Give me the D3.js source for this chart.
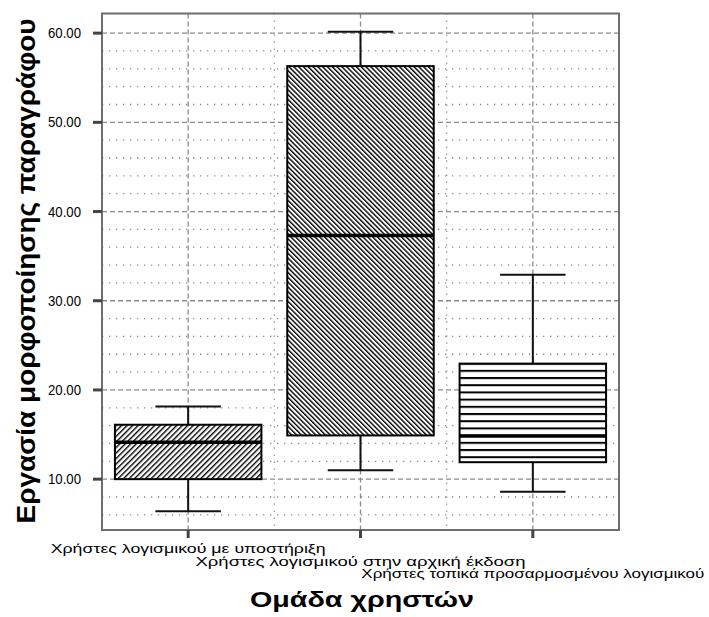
<!DOCTYPE html>
<meta charset="utf-8">
<script src="https://d3js.org/d3.v7.min.js"></script>
<style>
body { margin: 0; background: #fff; }
</style>
<div id="my_dataviz"></div>
<script>

// box plot summary values
var groups = ["Χρήστες λογισμικού με υποστήριξη",
              "Χρήστες λογισμικού στην αρχική έκδοση",
              "Χρήστες τοπικά προσαρμοσμένου λογισμικού"];
var mins    = [6.4, 11.0, 8.6];
var q1s     = [10.0, 14.9, 11.9];
var medians = [14.15, 37.3, 14.85];
var q3s     = [16.1, 56.3, 22.95];
var maxs    = [18.15, 60.15, 32.9];
var yTicks  = [10, 20, 30, 40, 50, 60];
var yMinor  = [6, 8, 12, 14, 16, 18, 22, 24, 26, 28, 32, 34, 36, 38, 42, 44, 46, 48, 52, 54, 56, 58];

var W = 709, H = 617;
var pLeft = 102, pRight = 619, pTop = 13.5, pBottom = 530;

var svg = d3.select("#my_dataviz")
  .append("svg")
    .attr("width", W)
    .attr("height", H);

var x = d3.scaleBand()
  .domain(groups)
  .range([pLeft, pRight])
  .padding(0);

var y = d3.scaleLinear()
  .domain([4.3, 62.2])
  .range([pBottom, pTop]);

// hatch patterns
var defs = svg.append("defs");
function hatch(id, w, angle) {
  var p = defs.append("pattern")
    .attr("id", id)
    .attr("patternUnits", "userSpaceOnUse")
    .attr("width", w).attr("height", 10)
    .attr("patternTransform", "rotate(" + angle + ")");
  p.append("rect").attr("width", w).attr("height", 10).attr("fill", "#fff");
  p.append("line").attr("x1", 0.7).attr("x2", 0.7).attr("y1", 0).attr("y2", 10)
    .attr("stroke", "#000").attr("stroke-width", 1.4);
}
hatch("hatch0", 3.9, 45);
hatch("hatch1", 3.4, -45);
var hp = defs.append("pattern")
  .attr("id", "hatch2")
  .attr("patternUnits", "userSpaceOnUse")
  .attr("width", 10).attr("height", 7.2)
  .attr("y", y(q3s[2]) - 1);
hp.append("rect").attr("width", 10).attr("height", 7.2).attr("fill", "#fff");
hp.append("line").attr("x1", 0).attr("x2", 10).attr("y1", 1).attr("y2", 1)
  .attr("stroke", "#000").attr("stroke-width", 2);

// grid
var grid = svg.append("g").attr("stroke", "#8a8a8a").attr("fill", "none");
grid.selectAll(".minor").data(yMinor).enter().append("line")
  .attr("x1", pLeft).attr("x2", pRight)
  .attr("y1", function(d) { return y(d); }).attr("y2", function(d) { return y(d); })
  .attr("stroke-width", 1.3).attr("stroke-dasharray", "1.3,5.7");
grid.selectAll(".major").data(yTicks).enter().append("line")
  .attr("x1", pLeft).attr("x2", pRight)
  .attr("y1", function(d) { return y(d); }).attr("y2", function(d) { return y(d); })
  .attr("stroke-width", 1.3).attr("stroke-dasharray", "5,3");
grid.selectAll(".vmajor").data(groups).enter().append("line")
  .attr("x1", function(d) { return x(d) + x.bandwidth() / 2; })
  .attr("x2", function(d) { return x(d) + x.bandwidth() / 2; })
  .attr("y1", pTop).attr("y2", pBottom)
  .attr("stroke-width", 1.3).attr("stroke-dasharray", "5,3");
grid.selectAll(".vminor").data(groups.slice(1)).enter().append("line")
  .attr("x1", function(d) { return x(d); })
  .attr("x2", function(d) { return x(d); })
  .attr("y1", pTop).attr("y2", pBottom)
  .attr("stroke-width", 1.3).attr("stroke-dasharray", "1.3,5.7");

// frame
svg.append("rect")
  .attr("x", pLeft).attr("y", pTop)
  .attr("width", pRight - pLeft).attr("height", pBottom - pTop)
  .attr("fill", "none").attr("stroke", "#6e6e6e").attr("stroke-width", 2);

// y ticks and labels
svg.selectAll(".ytick").data(yTicks).enter().append("line")
  .attr("x1", pLeft - 9).attr("x2", pLeft)
  .attr("y1", function(d) { return y(d); }).attr("y2", function(d) { return y(d); })
  .attr("stroke", "#444").attr("stroke-width", 3);
svg.selectAll(".ylab").data(yTicks).enter().append("text")
  .attr("x", pLeft - 21).attr("y", function(d) { return y(d) + 5; })
  .attr("text-anchor", "end")
  .attr("textLength", 33)
  .attr("lengthAdjust", "spacingAndGlyphs")
  .style("font-family", "Liberation Sans, Arial, sans-serif")
  .style("font-size", "14px")
  .text(function(d) { return d3.format(".2f")(d); });

// x ticks and staggered labels
svg.selectAll(".xtick").data(groups).enter().append("line")
  .attr("x1", function(d) { return x(d) + x.bandwidth() / 2; })
  .attr("x2", function(d) { return x(d) + x.bandwidth() / 2; })
  .attr("y1", pBottom).attr("y2", pBottom + 8)
  .attr("stroke", "#444").attr("stroke-width", 3);
var labW = [275, 330, 343];
svg.selectAll(".xlab").data(groups).enter().append("text")
  .attr("x", function(d) { return x(d) + x.bandwidth() / 2; })
  .attr("y", function(d, i) { return 553 + i * 12.5; })
  .attr("text-anchor", "middle")
  .attr("textLength", function(d, i) { return labW[i]; })
  .attr("lengthAdjust", "spacingAndGlyphs")
  .style("font-family", "Liberation Sans, Arial, sans-serif")
  .style("font-size", "13.5px")
  .text(function(d) { return d; });

// boxes
var bw = x.bandwidth() * 0.85, cw = x.bandwidth() * 0.38;
var boxes = svg.selectAll(".box").data(groups).enter().append("g");
boxes.each(function(d, i) {
  var g = d3.select(this);
  var cx = x(d) + x.bandwidth() / 2;
  g.append("line").attr("x1", cx).attr("x2", cx)
    .attr("y1", y(maxs[i])).attr("y2", y(q3s[i]))
    .attr("stroke", "#111").attr("stroke-width", 2);
  g.append("line").attr("x1", cx).attr("x2", cx)
    .attr("y1", y(q1s[i])).attr("y2", y(mins[i]))
    .attr("stroke", "#111").attr("stroke-width", 2);
  [maxs[i], mins[i]].forEach(function(v) {
    g.append("line").attr("x1", cx - cw / 2).attr("x2", cx + cw / 2)
      .attr("y1", y(v)).attr("y2", y(v))
      .attr("stroke", "#111").attr("stroke-width", 2);
  });
  g.append("rect")
    .attr("x", cx - bw / 2).attr("width", bw)
    .attr("y", y(q3s[i])).attr("height", y(q1s[i]) - y(q3s[i]))
    .attr("fill", "url(#hatch" + i + ")")
    .attr("stroke", "#000").attr("stroke-width", 2);
  g.append("line").attr("x1", cx - bw / 2).attr("x2", cx + bw / 2)
    .attr("y1", y(medians[i])).attr("y2", y(medians[i]))
    .attr("stroke", "#000").attr("stroke-width", 3.5);
});

// axis titles
svg.append("text")
  .attr("transform", "translate(35," + 271 + ") rotate(-90)")
  .attr("text-anchor", "middle")
  .attr("textLength", 505)
  .attr("lengthAdjust", "spacingAndGlyphs")
  .style("font-family", "Liberation Sans, Arial, sans-serif")
  .style("font-weight", "bold")
  .style("font-size", "26px")
  .text("Εργασία μορφοποίησης παραγράφου");

svg.append("text")
  .attr("x", 362).attr("y", 607)
  .attr("text-anchor", "middle")
  .attr("textLength", 224)
  .attr("lengthAdjust", "spacingAndGlyphs")
  .style("font-family", "Liberation Sans, Arial, sans-serif")
  .style("font-weight", "bold")
  .style("font-size", "22px")
  .text("Ομάδα χρηστών");

</script>
